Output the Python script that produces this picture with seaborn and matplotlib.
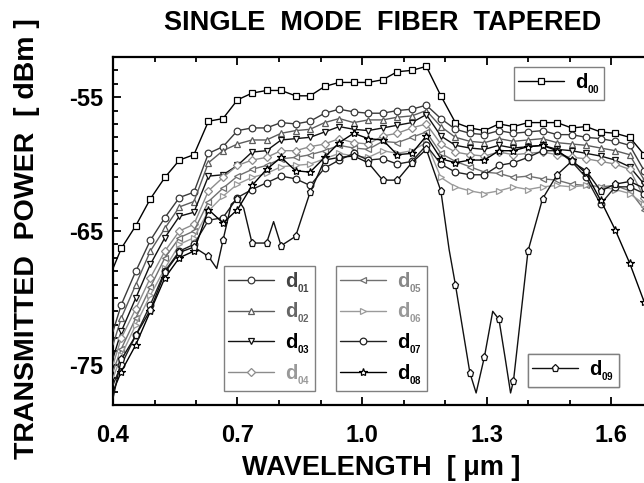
import numpy as np
import matplotlib
matplotlib.use('Agg')
import matplotlib.pyplot as plt
import seaborn as sns
from matplotlib.ticker import MultipleLocator

# longitudes de onda (um) comunes a d00-d08
wavelength = [0.40, 0.42, 0.455, 0.49, 0.525, 0.56, 0.595, 0.63, 0.665, 0.70,
              0.735, 0.77, 0.805, 0.84, 0.875, 0.91, 0.945, 0.98, 1.015, 1.05,
              1.085, 1.12, 1.155, 1.19, 1.225, 1.26, 1.295, 1.33, 1.365, 1.40,
              1.435, 1.47, 1.505, 1.54, 1.575, 1.61, 1.645, 1.68, 1.70]

d00 = [-67.8, -66.3, -64.6, -62.6, -61.0, -59.7, -59.3, -56.8, -56.6, -55.2,
       -54.7, -54.5, -54.5, -54.9, -54.9, -54.2, -53.9, -53.9, -53.9, -53.7,
       -53.1, -53.0, -52.7, -54.9, -56.9, -57.3, -57.5, -57.0, -57.2, -56.9,
       -56.9, -56.9, -57.3, -57.2, -57.6, -57.7, -58.0, -59.3, -60.5]
d01 = [-72.5, -70.5, -68.0, -65.7, -64.0, -62.5, -62.1, -59.2, -58.7, -57.5,
       -57.3, -57.3, -56.9, -57.0, -56.8, -56.2, -55.9, -56.1, -56.2, -56.2,
       -56.0, -55.9, -55.6, -56.6, -57.4, -57.7, -57.8, -57.5, -57.7, -57.6,
       -57.5, -57.8, -57.8, -58.0, -58.1, -58.3, -58.6, -60.5, -61.5]
d02 = [-73.5, -71.5, -69.0, -66.5, -64.8, -63.2, -62.8, -59.9, -59.0, -58.5,
       -58.2, -58.2, -57.7, -57.5, -57.4, -56.9, -56.6, -56.9, -56.7, -56.7,
       -56.5, -56.4, -56.0, -57.2, -58.0, -58.3, -58.4, -58.1, -58.3, -58.2,
       -58.1, -58.4, -58.5, -58.6, -58.8, -59.0, -59.3, -61.2, -62.0]
d03 = [-74.5, -72.5, -70.0, -67.5, -65.5, -63.9, -63.6, -60.9, -60.8, -60.1,
       -59.1, -59.0, -58.2, -58.1, -58.0, -57.6, -57.2, -57.4, -57.5, -57.3,
       -57.1, -56.9, -56.3, -57.9, -58.6, -58.8, -58.9, -58.6, -58.8, -58.7,
       -58.6, -58.9, -59.0, -59.2, -59.4, -59.7, -60.2, -61.5, -62.5]
d04 = [-75.0, -73.0, -70.8, -68.5, -66.5, -65.0, -64.5, -62.0, -61.0, -60.1,
       -59.7, -59.5, -59.0, -59.0, -58.7, -58.5, -58.1, -58.4, -58.5, -57.9,
       -57.7, -57.3, -57.0, -58.5, -59.1, -59.3, -59.4, -59.1, -59.3, -59.2,
       -59.1, -59.3, -59.5, -59.6, -59.8, -60.0, -60.4, -62.5, -63.5]
d05 = [-75.5, -73.8, -71.5, -69.2, -67.0, -65.5, -65.0, -62.8, -61.8, -60.9,
       -60.4, -60.1, -59.6, -59.5, -59.3, -59.0, -58.6, -58.8, -58.9, -58.3,
       -58.4, -58.0, -57.6, -59.2, -59.8, -60.2, -60.6, -60.7, -61.0, -60.9,
       -61.1, -61.2, -61.5, -61.6, -61.7, -61.6, -62.0, -63.4, -64.0]
d06 = [-76.0, -74.3, -72.0, -69.8, -67.8, -66.0, -65.5, -63.5, -62.4, -61.5,
       -61.0, -60.7, -60.2, -60.1, -60.0, -59.6, -59.2, -59.4, -59.5, -59.0,
       -59.2, -59.0, -58.4, -61.0, -61.7, -62.0, -62.2, -62.0, -61.7, -61.9,
       -61.7, -61.6, -61.7, -61.6, -61.7, -61.9, -62.2, -63.0, -63.8]
d07 = [-76.5, -75.0, -72.8, -70.5, -68.0, -66.5, -66.0, -64.2, -64.0, -62.5,
       -61.9, -61.4, -60.9, -61.1, -61.6, -60.3, -59.7, -59.2, -59.7, -59.6,
       -60.0, -59.8, -58.6, -60.0, -60.6, -60.8, -60.8, -60.1, -59.9, -59.5,
       -59.0, -59.0, -59.8, -61.0, -63.0, -61.7, -61.7, -62.2, -63.0]
d08 = [-77.0, -75.5, -73.5, -71.0, -68.5, -67.0, -66.5, -63.4, -64.4, -63.4,
       -61.6, -60.4, -59.5, -60.5, -60.6, -59.5, -58.4, -57.7, -58.1, -58.2,
       -59.3, -59.2, -57.9, -59.6, -59.9, -59.7, -59.7, -59.0, -59.0, -58.7,
       -58.6, -59.0, -59.7, -60.7, -62.7, -64.9, -67.4, -70.3, -72.0]

# d09 tiene estructura fina propia
wl_d09 = [0.40, 0.42, 0.455, 0.49, 0.525, 0.56, 0.595, 0.63, 0.65, 0.665,
          0.685, 0.70, 0.715, 0.735, 0.77, 0.787, 0.805, 0.84, 0.875, 0.91,
          0.945, 0.98, 1.015, 1.05, 1.085, 1.12, 1.155, 1.19, 1.21, 1.225,
          1.26, 1.275, 1.295, 1.315, 1.33, 1.345, 1.358, 1.365, 1.40, 1.435,
          1.47, 1.505, 1.54, 1.575, 1.61, 1.645, 1.68, 1.70]
d09 = [-77.5, -74.6, -72.8, -70.9, -68.1, -66.6, -66.2, -66.9, -67.8, -65.7,
       -63.0, -62.6, -63.3, -65.9, -65.9, -64.3, -66.1, -65.4, -62.1, -59.7,
       -59.5, -59.4, -59.9, -61.2, -61.2, -59.9, -58.9, -62.0, -66.4, -69.0,
       -75.6, -77.1, -74.4, -71.0, -71.6, -74.5, -77.1, -76.2, -66.5, -62.6,
       -60.8, -59.8, -60.5, -62.0, -61.5, -61.3, -61.8, -62.5]
marcas_d09 = [1, 2, 3, 4, 5, 6, 7, 9, 11, 13, 14, 16, 17, 18, 19, 20, 21, 22,
              23, 24, 25, 26, 27, 29, 30, 32, 34, 37, 38, 39, 40, 41, 42, 43,
              44, 45, 46]

nombres = ['d00', 'd01', 'd02', 'd03', 'd04', 'd05', 'd06', 'd07', 'd08', 'd09']
valores = [d00, d01, d02, d03, d04, d05, d06, d07, d08, d09]
colores = ['#000000', '#3a3a3a', '#5c5c5c', '#111111', '#8c8c8c',
           '#707070', '#9a9a9a', '#222222', '#000000', '#111111']
color_txt = ['#000000', '#444444', '#666666', '#000000', '#999999',
             '#888888', '#999999', '#000000', '#000000', '#000000']
marcadores = ['s', 'o', '^', 'v', 'D', '<', '>', 'o', '*', 'p']
tam_marca = [4.5, 4.8, 5.0, 5.0, 4.2, 5.0, 5.0, 4.8, 6.0, 5.2]

sns.set_style('ticks')
plt.rcParams['font.family'] = ['Liberation Sans', 'DejaVu Sans']
plt.rcParams['font.weight'] = 'bold'
plt.rcParams['axes.unicode_minus'] = False
plt.rcParams['text.color'] = 'black'
plt.rcParams['xtick.color'] = 'black'
plt.rcParams['ytick.color'] = 'black'
plt.rcParams['mathtext.fontset'] = 'custom'
plt.rcParams['mathtext.rm'] = 'Liberation Sans:bold'
plt.rcParams['mathtext.it'] = 'Liberation Sans:bold'
plt.rcParams['mathtext.bf'] = 'Liberation Sans:bold'

fig = plt.figure(figsize=(6.44, 4.83), dpi=100)
ax = fig.add_axes([113 / 644, 78 / 483, 539.5 / 644, 348 / 483])

lineas = {}
for i, nom in enumerate(nombres):
    if nom == 'd09':
        xs, mk = wl_d09, marcas_d09
    else:
        xs, mk = wavelength, list(range(1, len(wavelength) - 1))
    sns.lineplot(x=xs, y=valores[i], ax=ax, color=colores[i], marker=marcadores[i],
                 markersize=tam_marca[i], markerfacecolor='white',
                 markeredgecolor=colores[i], markeredgewidth=0.9, linewidth=1.0,
                 markevery=mk, errorbar=None, legend=False, zorder=3 + (nom == 'd09'))
    lineas[nom] = ax.lines[-1]

ax.set_xlim(0.4, 1.7)
ax.set_ylim(-78, -52)
ax.set_xticks([0.4, 0.7, 1.0, 1.3, 1.6])
ax.set_xticklabels(['0.4', '0.7', '1.0', '1.3', '1.6'])
ax.set_yticks([-75, -65, -55])
ax.set_yticklabels(['-75', '-65', '-55'])
ax.xaxis.set_minor_locator(MultipleLocator(0.1))
ax.yaxis.set_minor_locator(MultipleLocator(1))
ax.tick_params(which='both', direction='in', top=True, right=False, width=1.3)
ax.tick_params(which='major', length=6)
ax.tick_params(which='minor', length=3.5)
ax.tick_params(axis='x', which='major', pad=14, labelsize=17)
ax.tick_params(axis='y', which='major', pad=7, labelsize=17)
for lab in ax.get_xticklabels() + ax.get_yticklabels():
    lab.set_fontweight('bold')
for s in ax.spines.values():
    s.set_linewidth(1.6)
    s.set_color('black')

fig.text(383 / 644, 1 - 23 / 483, 'SINGLE  MODE  FIBER  TAPERED', ha='center',
         va='center', fontsize=19.5, fontweight='bold')
fig.text(381 / 644, 1 - 468 / 483, 'WAVELENGTH  [ μm ]', ha='center', va='center',
         fontsize=19.5, fontweight='bold')
fig.text(27 / 644, 1 - 239 / 483, 'TRANSMITTED  POWER  [ dBm ]', ha='center',
         va='center', rotation=90, fontsize=20.5, fontweight='bold')


def etiqueta(nom):
    return r'$d_{_{' + nom[1:] + '}}$'


def leyenda(grupo, x0, y0):
    leg = ax.legend([lineas[n] for n in grupo], [etiqueta(n) for n in grupo],
                    loc='upper left', bbox_to_anchor=(x0 / 644, 1 - y0 / 483),
                    bbox_transform=fig.transFigure, fontsize=14.5, numpoints=1,
                    frameon=True, fancybox=False, framealpha=1, edgecolor='#808080',
                    borderpad=0.2, borderaxespad=0, handlelength=2.3,
                    handletextpad=0.55, labelspacing=0.3)
    leg.get_frame().set_linewidth(1.0)
    for t, n in zip(leg.get_texts(), grupo):
        t.set_color(color_txt[nombres.index(n)])
    ax.add_artist(leg)
    return leg


leyenda(['d00'], 514, 67)
leyenda(['d01', 'd02', 'd03', 'd04'], 224, 266)
leyenda(['d05', 'd06', 'd07', 'd08'], 336, 266)
leyenda(['d09'], 528, 354)

fig.savefig('out.png', dpi=100)
